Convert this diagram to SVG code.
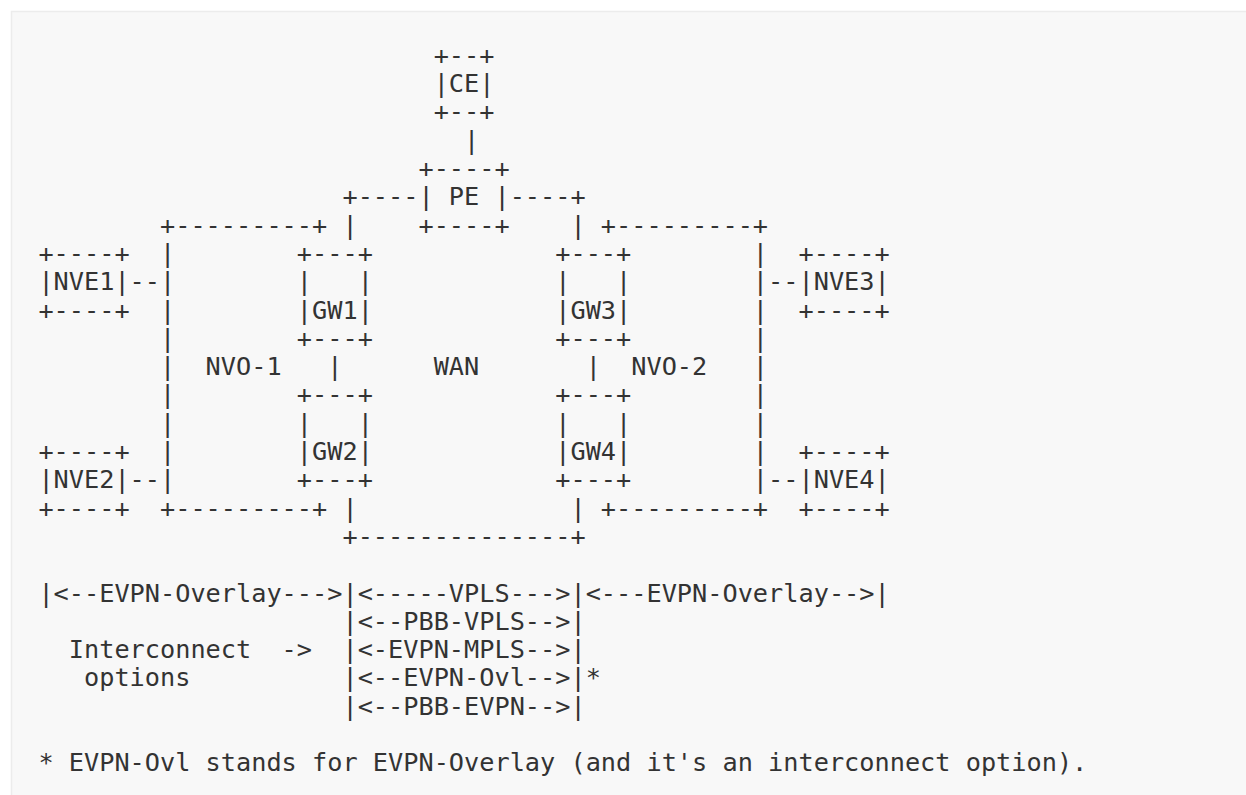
<svg xmlns="http://www.w3.org/2000/svg" width="1246" height="795" viewBox="0 0 1246 795">
<style>
.t{font-family:"DejaVu Sans Mono","Liberation Mono",monospace;font-size:25.25px;fill:#333;white-space:pre}
</style>
<rect x="0" y="0" width="1246" height="795" fill="#ffffff"/>
<rect x="11.5" y="11.5" width="1250" height="800" fill="#f8f8f8" stroke="#ececec" stroke-width="1.5"/>
<g id="diagram" xml:space="preserve">
<text class="t" x="38.4" y="63.8">                          +--+</text>
<text class="t" x="38.4" y="92.1">                          |CE|</text>
<text class="t" x="38.4" y="120.4">                          +--+</text>
<text class="t" x="38.4" y="148.7">                            |</text>
<text class="t" x="38.4" y="177.0">                         +----+</text>
<text class="t" x="38.4" y="205.3">                    +----| PE |----+</text>
<text class="t" x="38.4" y="233.6">        +---------+ |    +----+    | +---------+</text>
<text class="t" x="38.4" y="261.9">+----+  |        +---+            +---+        |  +----+</text>
<text class="t" x="38.4" y="290.2">|NVE1|--|        |   |            |   |        |--|NVE3|</text>
<text class="t" x="38.4" y="318.5">+----+  |        |GW1|            |GW3|        |  +----+</text>
<text class="t" x="38.4" y="346.8">        |        +---+            +---+        |</text>
<text class="t" x="38.4" y="375.1">        |  NVO-1   |      WAN       |  NVO-2   |</text>
<text class="t" x="38.4" y="403.4">        |        +---+            +---+        |</text>
<text class="t" x="38.4" y="431.7">        |        |   |            |   |        |</text>
<text class="t" x="38.4" y="460.0">+----+  |        |GW2|            |GW4|        |  +----+</text>
<text class="t" x="38.4" y="488.3">|NVE2|--|        +---+            +---+        |--|NVE4|</text>
<text class="t" x="38.4" y="516.6">+----+  +---------+ |              | +---------+  +----+</text>
<text class="t" x="38.4" y="544.9">                    +--------------+</text>
</g>
<g id="legend" xml:space="preserve">
<text class="t" x="38.4" y="601.5">|&lt;--EVPN-Overlay---&gt;|&lt;-----VPLS---&gt;|&lt;---EVPN-Overlay--&gt;|</text>
<text class="t" x="38.4" y="629.8">                    |&lt;--PBB-VPLS--&gt;|</text>
<text class="t" x="38.4" y="658.1">  Interconnect  -&gt;  |&lt;-EVPN-MPLS--&gt;|</text>
<text class="t" x="38.4" y="686.4">   options          |&lt;--EVPN-Ovl--&gt;|*</text>
<text class="t" x="38.4" y="714.7">                    |&lt;--PBB-EVPN--&gt;|</text>
<text class="t" x="38.4" y="771.3">* EVPN-Ovl stands for EVPN-Overlay (and it's an interconnect option).</text>
</g>
</svg>
